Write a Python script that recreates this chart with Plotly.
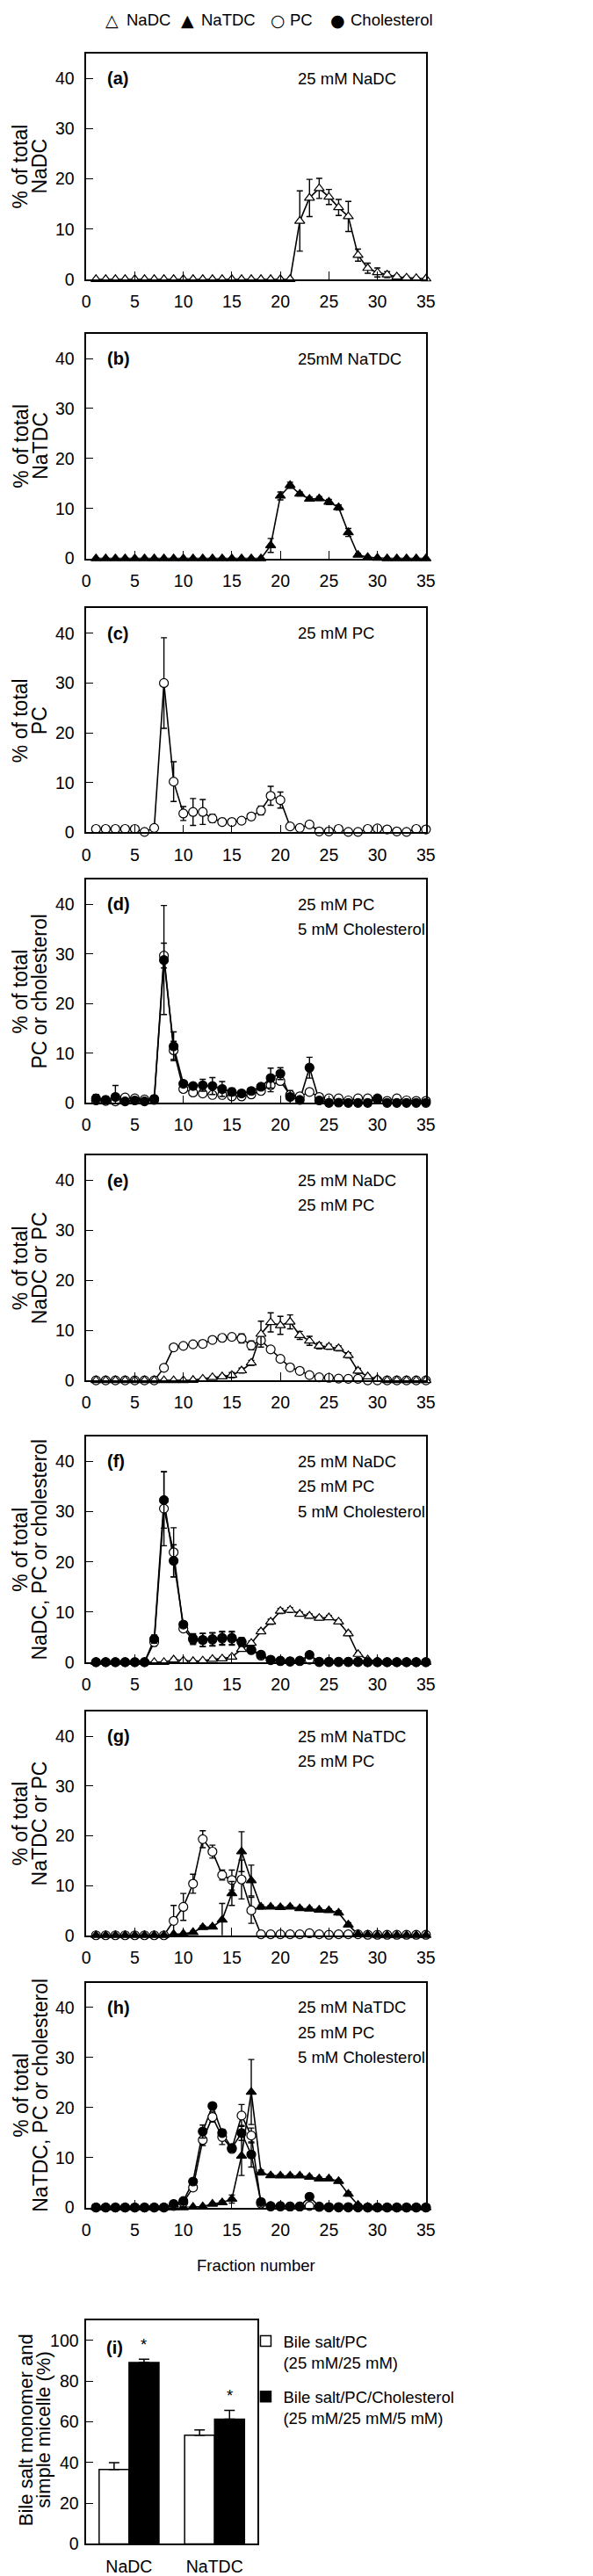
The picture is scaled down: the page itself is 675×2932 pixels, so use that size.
import plotly.graph_objects as go

W, H = 675, 2932
FONT = "Liberation Sans, Arial, sans-serif"
SYMFONT = "DejaVu Sans, Liberation Sans, sans-serif"

# ---------------- data ----------------
fractions = [1, 2, 3, 4, 5, 6, 7, 8, 9, 10, 11, 12, 13, 14, 15, 16, 17, 18,
             19, 20, 21, 22, 23, 24, 25, 26, 27, 28, 29, 30, 31, 32, 33, 34, 35]
x_ticks = [0, 5, 10, 15, 20, 25, 30, 35]
y_ticks = [0, 10, 20, 30, 40]

# (a) 25 mM NaDC
a_nadc = [0, 0, 0, 0, 0, 0, 0, 0, 0, 0, 0, 0, 0, 0, 0, 0, 0, 0, 0, 0, 0,
          11.6, 16.2, 18.1, 16.4, 14.3, 12.5, 4.8, 2.2, 1.35, 0.9, 0.5, 0.3, 0.2, 0.1]
a_nadc_err = [0, 0, 0, 0, 0, 0, 0, 0, 0, 0, 0, 0, 0, 0, 0, 0, 0, 0, 0, 0, 0,
              6.0, 3.7, 2.0, 1.5, 1.6, 3.0, 1.2, 1.0, 0.9, 0.6, 0.3, 0.3, 0.2, 0.1]

# (b) 25 mM NaTDC
b_natdc = [0, 0, 0, 0, 0, 0, 0, 0, 0, 0, 0, 0, 0, 0, 0, 0, 0, 0,
           2.6, 12.5, 14.65, 12.9, 11.9, 12.0, 11.3, 10.2, 5.2, 0.7, 0.25, 0.1, 0, 0, 0, 0, 0]
b_natdc_err = [0, 0, 0, 0, 0, 0, 0, 0, 0, 0, 0, 0, 0, 0, 0, 0, 0, 0,
               1.4, 0.8, 0.6, 0.4, 0.4, 0.4, 0.5, 0.5, 0.8, 0.3, 0, 0, 0, 0, 0, 0, 0]

# (c) 25 mM PC
c_pc = [0.7, 0.7, 0.7, 0.7, 0.7, 0.1, 0.9, 30.0, 10.2, 3.8, 4.1, 4.1, 2.8, 2.1, 2.1, 2.35, 3.2, 4.4,
        7.35, 6.5, 1.2, 0.9, 1.6, 0.2, 0.2, 0.7, 0.1, 0.1, 0.7, 0.8, 0.6, 0.2, 0.1, 0.7, 0.6]
c_pc_err = [0, 0, 0, 0, 0, 0, 0, 9.1, 4.0, 1.4, 2.7, 2.5, 0.8, 0.3, 0.5, 0.4, 0.6, 0.9,
            1.9, 1.6, 0.3, 0, 0, 0, 0, 0, 0, 0, 0, 0, 0, 0, 0, 0, 0]

# (d) 25 mM PC + 5 mM cholesterol
d_pc = [0.5, 0.4, 0.3, 1.1, 0.9, 0.7, 0.6, 29.7, 10.6, 2.8, 2.1, 1.9, 1.6, 1.6, 1.3, 1.3, 1.7, 2.4,
        3.55, 4.4, 1.6, 1.3, 2.2, 1.2, 0.9, 0.9, 0.5, 0.9, 0.9, 0.7, 0.4, 0.9, 0.5, 0.4, 0.4]
d_pc_err = [0.5, 0.4, 0.3, 0.5, 0.5, 0.4, 0.3, 2.5, 1.8, 0.4, 0.3, 0.3, 0.3, 0.5, 0.5, 0.3, 0.3, 0.4,
            1.3, 0.7, 0.4, 0.3, 0.6, 0.3, 0.2, 0.2, 0.2, 0.2, 0.2, 0.2, 0.2, 0.2, 0.2, 0.2, 0.2]
d_chol = [0.9, 0.6, 1.2, 0.3, 0.5, 0.3, 0.8, 28.8, 11.4, 3.85, 3.4, 3.55, 3.4, 2.8, 2.2, 1.9, 2.4, 3.25,
          5.0, 5.9, 1.2, 0.6, 7.1, 0.5, 0, 0.05, 0, 0, 0, 0.9, 0, 0, 0, 0, 0]
d_chol_err = [0.8, 0.7, 2.3, 0.3, 0.5, 0.4, 0.7, 11.0, 2.9, 0.5, 0.5, 1.2, 1.7, 1.5, 0.8, 0.6, 0.4, 0.5,
              2.0, 1.2, 1.3, 0.4, 2.1, 0.4, 0, 0, 0, 0, 0, 0.4, 0, 0, 0, 0, 0]

# (e) 25 mM NaDC + 25 mM PC
e_pc = [0, 0, 0, 0, 0, 0, 0, 2.5, 6.6, 6.9, 7.2, 7.3, 8.1, 8.5, 8.7, 8.4, 7.0, 8.0,
        6.2, 4.3, 2.6, 1.9, 1.05, 0.6, 0.5, 0.35, 0.3, 0.3, 0, 0, 0, 0, 0, 0, 0]
e_pc_err = [0, 0, 0, 0, 0, 0, 0, 0.5, 0.3, 0.3, 0.3, 0.3, 0.3, 0.3, 0.3, 0.9, 0.9, 0.4,
            0.4, 0.4, 0.3, 0.3, 0.3, 0.2, 0.2, 0.2, 0.2, 0.2, 0, 0, 0, 0, 0, 0, 0]
e_nadc = [0, 0, 0, 0, 0, 0, 0, 0, 0, 0, 0.05, 0.3, 0.6, 0.75, 1.05, 1.95, 3.5, 9.25,
          11.6, 11.0, 11.7, 9.0, 7.9, 6.9, 6.7, 6.4, 5.0, 1.9, 0.75, 0.3, 0, 0, 0, 0, 0]
e_nadc_err = [0, 0, 0, 0, 0, 0, 0, 0, 0, 0, 0, 0.2, 0.2, 0.3, 0.5, 0.5, 0.5, 2.6,
              1.9, 1.8, 1.4, 0.8, 0.9, 0.6, 0.5, 0.5, 0.5, 0.5, 0.3, 0.2, 0, 0, 0, 0, 0]

# (f) 25 mM NaDC + 25 mM PC + 5 mM cholesterol
f_nadc = [0, 0, 0, 0, 0, 0, 0, 0, 0.5, 0.3, 0.2, 0.3, 0.6, 0.7, 1.05, 2.6, 3.8, 6.1,
          8.05, 10.2, 10.4, 9.6, 9.2, 8.8, 8.9, 8.05, 5.7, 1.6, 0.5, 0.2, 0, 0, 0, 0, 0]
f_nadc_err = [0, 0, 0, 0, 0, 0, 0, 0, 0.3, 0.2, 0.2, 0.2, 0.3, 0.3, 0.3, 0.4, 0.4, 0.4,
              0.5, 0.5, 0.5, 0.4, 0.4, 0.4, 0.4, 0.4, 0.4, 0.3, 0.3, 0.2, 0, 0, 0, 0, 0]
f_pc = [0, 0, 0, 0, 0, 0, 4.0, 30.6, 21.9, 6.7, 4.5, 4.4, 4.5, 4.7, 4.7, 4.0, 2.4, 1.3,
        0.4, 0.2, 0.1, 0.2, 0.5, 0, 0, 0, 0, 0, 0, 0, 0, 0, 0, 0, 0]
f_pc_err = [0, 0, 0, 0, 0, 0, 0.8, 7.4, 4.9, 0.6, 1.0, 1.3, 1.3, 1.3, 1.3, 0.8, 0.4, 0.3,
            0.2, 0, 0, 0, 0.2, 0, 0, 0, 0, 0, 0, 0, 0, 0, 0, 0, 0]
f_chol = [0, 0, 0, 0, 0, 0, 4.6, 32.3, 20.2, 7.5, 4.7, 4.45, 4.6, 4.85, 4.85, 4.1, 2.5, 1.5,
          0.5, 0.3, 0.2, 0.3, 1.45, 0.1, 0.1, 0.1, 0.1, 0.1, 0, 0, 0, 0, 0, 0, 0]
f_chol_err = [0, 0, 0, 0, 0, 0, 0.8, 5.6, 3.2, 0.6, 1.0, 1.3, 1.3, 1.3, 1.3, 0.8, 0.4, 0.3,
              0.2, 0, 0, 0, 0.4, 0, 0, 0, 0, 0, 0, 0, 0, 0, 0, 0, 0]

# (g) 25 mM NaTDC + 25 mM PC
g_pc = [0, 0, 0, 0, 0, 0, 0, 0, 2.9, 5.7, 10.35, 19.3, 16.8, 12.1, 11.1, 11.2, 5.0, 0.2,
        0.2, 0.2, 0.2, 0.2, 0.4, 0.2, 0.1, 0.2, 0.2, 0.2, 0.1, 0.1, 0.1, 0.1, 0.1, 0.1, 0.1]
g_pc_err = [0, 0, 0, 0, 0, 0, 0, 0, 3.1, 2.7, 1.9, 1.7, 1.3, 1.0, 2.0, 3.9, 2.6, 0,
            0, 0, 0, 0, 0, 0, 0, 0, 0, 0, 0, 0, 0, 0, 0, 0, 0]
g_natdc = [0, 0, 0, 0, 0, 0, 0, 0, 0.2, 0.3, 0.6, 1.6, 1.7, 3.1, 8.4, 16.8, 11.0, 5.7,
           5.7, 5.6, 5.7, 5.4, 5.3, 5.1, 5.0, 4.5, 2.1, 0.2, 0.1, 0, 0, 0, 0, 0, 0]
g_natdc_err = [0, 0, 0, 0, 0, 0, 0, 0, 0, 0, 0.2, 0.3, 0.3, 3.3, 2.4, 4.0, 3.1, 0.4,
               0.3, 0.3, 0.3, 0.3, 0.3, 0.3, 0.3, 0.4, 0.4, 0.2, 0, 0, 0, 0, 0, 0, 0]

# (h) 25 mM NaTDC + 25 mM PC + 5 mM cholesterol
h_pc = [0, 0, 0, 0, 0, 0, 0, 0, 0.3, 1.0, 4.0, 13.5, 18.1, 14.1, 11.7, 18.4, 14.4, 0.8,
        0.2, 0.2, 0.2, 0.2, 0.3, 0.1, 0, 0, 0, 0, 0, 0, 0, 0, 0, 0, 0]
h_pc_err = [0, 0, 0, 0, 0, 0, 0, 0, 0.2, 0.3, 0.5, 1.1, 1.0, 1.5, 0.5, 2.2, 1.5, 0.3,
            0, 0, 0, 0, 0, 0, 0, 0, 0, 0, 0, 0, 0, 0, 0, 0, 0]
h_chol = [0, 0, 0, 0, 0, 0, 0, 0, 0.7, 1.3, 5.2, 15.2, 20.3, 14.9, 11.9, 14.9, 10.6, 1.1,
          0.3, 0.3, 0.2, 0.2, 2.15, 0.2, 0.1, 0.1, 0.1, 0.1, 0, 0, 0, 0, 0, 0, 0]
h_chol_err = [0, 0, 0, 0, 0, 0, 0, 0, 0.2, 0.3, 0.5, 1.3, 0.6, 0.6, 0.6, 1.5, 2.5, 0.3,
              0, 0, 0, 0, 0.3, 0, 0, 0, 0, 0, 0, 0, 0, 0, 0, 0, 0]
h_natdc = [0, 0, 0, 0, 0, 0, 0, 0, 0, 0, 0.1, 0.2, 0.7, 1.0, 1.7, 10.3, 23.1, 7.0,
           6.4, 6.35, 6.35, 6.35, 6.1, 5.75, 5.75, 5.25, 2.7, 0.5, 0.1, 0, 0, 0, 0, 0, 0]
h_natdc_err = [0, 0, 0, 0, 0, 0, 0, 0, 0, 0, 0, 0, 0.2, 0.3, 0.8, 3.9, 6.5, 0.5,
               0.3, 0.3, 0.3, 0.3, 0.3, 0.3, 0.3, 0.3, 0.4, 0.2, 0, 0, 0, 0, 0, 0, 0]

# (i) bile salt monomer and simple micelle (%)
bile_salts = ["NaDC", "NaTDC"]
bs_pc = [36.6, 53.4]
bs_pc_err = [3.3, 2.6]
bs_pc_chol = [89.2, 61.3]
bs_pc_chol_err = [1.6, 4.3]
bar_ticks = [0, 20, 40, 60, 80, 100]

series_names = ["NaDC", "NaTDC", "PC", "Cholesterol"]
series_glyphs = ["\u25B3", "\u25B2", "\u25CB", "\u25CF"]

# ---------------- panels ----------------
panels = [
    dict(label="(a)", cond=["25 mM NaDC"], ytitle=["% of total", "NaDC"],
         series=[("NaDC", a_nadc, a_nadc_err)]),
    dict(label="(b)", cond=["25mM NaTDC"], ytitle=["% of total", "NaTDC"],
         series=[("NaTDC", b_natdc, b_natdc_err)]),
    dict(label="(c)", cond=["25 mM PC"], ytitle=["% of total", "PC"],
         series=[("PC", c_pc, c_pc_err)]),
    dict(label="(d)", cond=["25 mM PC", "5 mM Cholesterol"], ytitle=["% of total", "PC or cholesterol"],
         series=[("PC", d_pc, d_pc_err), ("Cholesterol", d_chol, d_chol_err)]),
    dict(label="(e)", cond=["25 mM NaDC", "25 mM PC"], ytitle=["% of total", "NaDC or PC"],
         series=[("PC", e_pc, e_pc_err), ("NaDC", e_nadc, e_nadc_err)]),
    dict(label="(f)", cond=["25 mM NaDC", "25 mM PC", "5 mM Cholesterol"],
         ytitle=["% of total", "NaDC, PC or cholesterol"],
         series=[("NaDC", f_nadc, f_nadc_err), ("PC", f_pc, f_pc_err), ("Cholesterol", f_chol, f_chol_err)]),
    dict(label="(g)", cond=["25 mM NaTDC", "25 mM PC"], ytitle=["% of total", "NaTDC or PC"],
         series=[("PC", g_pc, g_pc_err), ("NaTDC", g_natdc, g_natdc_err)]),
    dict(label="(h)", cond=["25 mM NaTDC", "25 mM PC", "5 mM Cholesterol"],
         ytitle=["% of total", "NaTDC, PC or cholesterol"],
         series=[("NaTDC", h_natdc, h_natdc_err), ("PC", h_pc, h_pc_err), ("Cholesterol", h_chol, h_chol_err)]),
]

PANEL_PX = [(53, 311), (373, 630), (687, 943), (997, 1252),
            (1312, 1569), (1633, 1891), (1947, 2203), (2257, 2514)]
X_LEFT, X_RIGHT = 87.3, 483.3
TICK = 19.5
TXT = 18.5

STY = {
    "NaDC": dict(symbol="triangle-up", color="white"),
    "NaTDC": dict(symbol="triangle-up", color="black"),
    "PC": dict(symbol="circle", color="white"),
    "Cholesterol": dict(symbol="circle", color="black"),
}

fig = go.Figure()
layout = {}
annotations = []


def ypaper(px):
    return 1 - px / H


for n, (p, (top, bot)) in enumerate(zip(panels, PANEL_PX), start=1):
    sfx = "" if n == 1 else str(n)
    xa, ya = "x" + sfx, "y" + sfx
    for name, vals, err in p["series"]:
        fig.add_trace(go.Scatter(x=fractions, y=vals, mode="lines", xaxis=xa, yaxis=ya,
                                 line=dict(color="black", width=1.6), showlegend=False,
                                 hoverinfo="skip", cliponaxis=False))
    for name, vals, err in p["series"]:
        st = STY[name]
        fig.add_trace(go.Scatter(
            x=fractions, y=vals, mode="markers", name=name, xaxis=xa, yaxis=ya,
            marker=dict(symbol=st["symbol"], color=st["color"], size=10,
                        line=dict(color="black", width=1.2)),
            error_y=dict(type="data", array=err, visible=True, color="black",
                         thickness=1.4, width=3.5),
            showlegend=False, cliponaxis=False))
    layout["xaxis" + sfx] = dict(
        domain=[X_LEFT / W, X_RIGHT / W], anchor=ya, range=[0, 35], tickvals=x_ticks,
        ticks="inside", ticklen=9, tickwidth=1.3, tickcolor="black",
        showline=True, linecolor="black", linewidth=1.5, mirror=True,
        showgrid=False, zeroline=False, tickfont=dict(family=FONT, size=TICK, color="black"),
        ticklabelstandoff=7)
    layout["yaxis" + sfx] = dict(
        domain=[ypaper(bot), ypaper(top)], anchor=xa, range=[0, 45], tickvals=y_ticks,
        ticks="inside", ticklen=8, tickwidth=1.3, tickcolor="black",
        showline=True, linecolor="black", linewidth=1.5, mirror=True,
        showgrid=False, zeroline=False, tickfont=dict(family=FONT, size=TICK, color="black"),
        ticklabelstandoff=8)
    annotations.append(dict(xref=xa, yref=ya, x=2.0, y=40, text="<b>" + p["label"] + "</b>",
                            showarrow=False, xanchor="left", yanchor="middle",
                            font=dict(family=FONT, size=20, color="black")))
    for k, line in enumerate(p["cond"]):
        annotations.append(dict(xref=xa, yref=ya, x=21.6, y=40 - 5 * k, text=line,
                                showarrow=False, xanchor="left", yanchor="middle",
                                font=dict(family=FONT, size=TXT, color="black")))
    yc = ypaper((top + bot) / 2)
    for k, line in enumerate(p["ytitle"]):
        annotations.append(dict(xref="paper", yref="paper", x=(10.5 + 22.5 * k) / W, y=yc, text=line,
                                textangle=-90, showarrow=False, xanchor="center", yanchor="middle",
                                font=dict(family=FONT, size=23, color="black")))

annotations.append(dict(xref="paper", yref="paper", x=285.3 / W, y=ypaper(2580), text="Fraction number",
                        showarrow=False, xanchor="center", yanchor="middle",
                        font=dict(family=FONT, size=TXT, color="black")))

# top key (symbol + name)
KEY_SYM_X = [117.5, 205.5, 311, 380.5]
KEY_TXT_X = [132, 219, 323, 393]
for glyph, name, sx, tx in zip(series_glyphs, series_names, KEY_SYM_X, KEY_TXT_X):
    annotations.append(dict(xref="paper", yref="paper", x=sx / W, y=ypaper(15), text=glyph,
                            showarrow=False, xanchor="center", yanchor="middle",
                            font=dict(family=SYMFONT, size=19, color="black")))
    annotations.append(dict(xref="paper", yref="paper", x=tx / W, y=ypaper(15), text=name,
                            showarrow=False, xanchor="left", yanchor="middle",
                            font=dict(family=FONT, size=TXT, color="black")))

# ---------------- panel (i) ----------------
fig.add_trace(go.Bar(x=bile_salts, y=bs_pc, name="Bile salt/PC<br>(25 mM/25 mM)",
                     marker=dict(color="white", line=dict(color="black", width=1.5)),
                     error_y=dict(type="data", array=bs_pc_err, arrayminus=[0, 0], symmetric=False,
                                  color="black", thickness=1.5, width=6),
                     xaxis="x9", yaxis="y9", legendgroup="g1"))
fig.add_trace(go.Bar(x=bile_salts, y=bs_pc_chol, name="Bile salt/PC/Cholesterol<br>(25 mM/25 mM/5 mM)",
                     marker=dict(color="black", line=dict(color="black", width=1.5)),
                     error_y=dict(type="data", array=bs_pc_chol_err, arrayminus=[0, 0], symmetric=False,
                                  color="black", thickness=1.5, width=6),
                     xaxis="x9", yaxis="y9", legendgroup="g2"))

layout["xaxis9"] = dict(domain=[X_LEFT / W, 286.7 / W], anchor="y9", type="category",
                        range=[-0.5, 1.5], ticks="", showline=True, linecolor="black",
                        linewidth=1.5, mirror=True, showgrid=False, zeroline=False,
                        tickfont=dict(family=FONT, size=TICK, color="black"), ticklabelstandoff=7)
layout["yaxis9"] = dict(domain=[ypaper(2898.3), ypaper(2642.7)], anchor="x9", range=[0, 110],
                        tickvals=bar_ticks, ticks="inside", ticklen=8, tickwidth=1.3, tickcolor="black",
                        showline=True, linecolor="black", linewidth=1.5, mirror=True,
                        showgrid=False, zeroline=False,
                        tickfont=dict(family=FONT, size=TICK, color="black"), ticklabelstandoff=3)

for i, (v, e) in enumerate(zip(bs_pc_chol, bs_pc_chol_err)):
    annotations.append(dict(xref="x9", yref="y9", x=i + 0.175, y=v + e + 2, text="*",
                            showarrow=False, xanchor="center", yanchor="bottom",
                            font=dict(family=FONT, size=TXT, color="black")))
annotations.append(dict(xref="x9", yref="y9", x=-0.29, y=96.5, text="<b>(i)</b>",
                        showarrow=False, xanchor="left", yanchor="middle",
                        font=dict(family=FONT, size=20, color="black")))
for k, line in enumerate(["Bile salt monomer and", "simple micelle (%)"]):
    annotations.append(dict(xref="paper", yref="paper", x=(17 + 21 * k) / W, y=ypaper(2768), text=line,
                            textangle=-90, showarrow=False, xanchor="center", yanchor="middle",
                            font=dict(family=FONT, size=22, color="black")))

fig.update_layout(
    width=W, height=H, margin=dict(l=0, r=0, t=0, b=0),
    paper_bgcolor="white", plot_bgcolor="white",
    font=dict(family=FONT, size=TXT, color="black"),
    barmode="group", bargap=0.3, bargroupgap=0,
    showlegend=True,
    legend=dict(orientation="v", x=276 / W, xanchor="left", y=ypaper(2648), yanchor="top",
                valign="top", font=dict(family=FONT, size=TXT, color="black"),
                bgcolor="rgba(0,0,0,0)", traceorder="grouped", tracegroupgap=12),
    annotations=annotations,
    **layout,
)

fig.write_html("out.html")
